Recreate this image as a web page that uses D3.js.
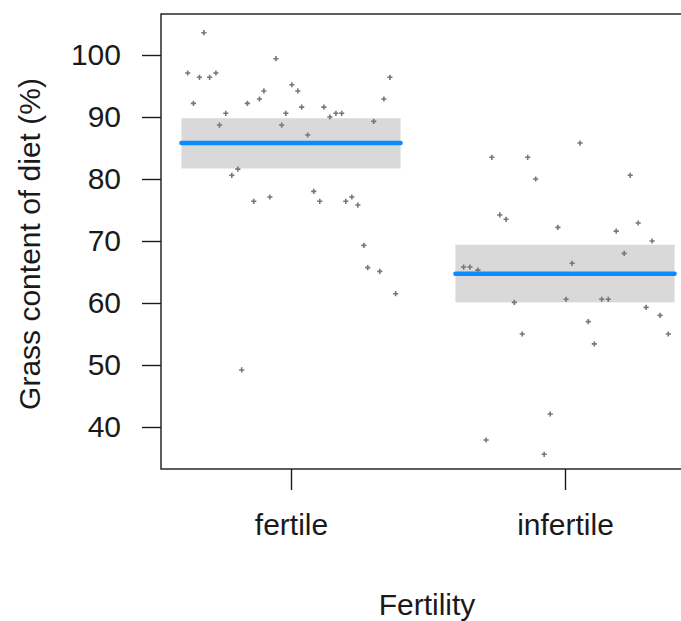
<!DOCTYPE html>
<html lang="en">
<head>
    <meta charset="UTF-8">
    <title>Grass content by fertility</title>
    <script src="https://d3js.org/d3.v7.min.js"></script>
    <style>
        body { margin: 0; background: #fff; }
        text { font-family: "Liberation Sans", Arial, sans-serif; fill: #1a1a1a; }
    </style>
</head>
<body>
<svg width="681" height="621" class="chart"></svg>

<script>
    // categories and tick labels
    var groups = ["fertile", "infertile"];
    var yTicks = [40, 50, 60, 70, 80, 90, 100];

    // fitted means and confidence band per group
    var groupMeans = [85.8, 64.7];
    var ciLower = [81.7, 60.1];
    var ciUpper = [89.8, 69.4];

    // jittered raw observations (x is position on the category axis, 1 = fertile, 2 = infertile)
    var fertileX = [0.682, 0.623, 0.666, 0.703, 0.726, 0.644, 0.762, 0.739, 0.784, 0.806,
        0.841, 0.885, 0.901, 0.864, 0.923, 0.945, 0.966, 0.981, 1.003, 1.025,
        1.039, 1.061, 1.083, 1.105, 1.120, 1.142, 1.164, 1.185, 1.200, 1.222,
        1.244, 1.302, 1.339, 1.361, 1.266, 1.280, 1.324, 1.382, 0.820];
    var fertileY = [103.6, 97.1, 96.4, 96.4, 97.1, 92.2, 90.6, 88.7, 80.6, 81.6,
        92.2, 92.9, 94.2, 76.4, 77.1, 99.4, 88.7, 90.6, 95.2, 94.2,
        91.6, 87.1, 78.0, 76.4, 91.6, 90.0, 90.6, 90.6, 76.4, 77.1,
        75.8, 89.3, 92.9, 96.4, 69.3, 65.7, 65.1, 61.5, 49.2];

    var infertileX = [1.733, 1.864, 1.893, 2.055, 2.238, 1.762, 1.785, 1.974, 2.187, 2.267,
        2.318, 2.216, 2.026, 1.630, 1.653, 1.682, 1.815, 2.004, 2.134, 2.158,
        2.296, 2.347, 2.085, 1.844, 2.107, 2.377, 1.946, 1.712, 1.924];
    var infertileY = [83.5, 83.5, 80.0, 85.8, 80.6, 74.2, 73.5, 72.2, 71.6, 72.9,
        70.0, 68.0, 66.4, 65.8, 65.8, 65.3, 60.1, 60.6, 60.6, 60.6,
        59.3, 58.0, 57.0, 55.0, 53.4, 55.0, 42.1, 37.9, 35.6];

    var svg = d3.select("svg.chart");
    var plotLeft = 161, plotTop = 14, plotBottom = 469, plotRight = 700;

    var xScale = d3.scaleLinear().domain([1, 2]).range([291, 565]);
    var yScale = d3.scaleLinear().domain([40, 100]).range([427, 55]);

    var points = [];
    fertileX.forEach(function (d, i) { points.push({x: d, y: fertileY[i]}); });
    infertileX.forEach(function (d, i) { points.push({x: d, y: infertileY[i]}); });

    var bands = groups.map(function (g, i) {
        return {name: g, pos: i + 1, mean: groupMeans[i], lo: ciLower[i], hi: ciUpper[i]};
    });

    // confidence band
    svg.selectAll(".band")
        .data(bands)
        .enter().append("rect")
        .attr("class", "band")
        .attr("x", function (d) { return xScale(d.pos - 0.4); })
        .attr("width", function (d) { return xScale(d.pos + 0.4) - xScale(d.pos - 0.4); })
        .attr("y", function (d) { return yScale(d.hi); })
        .attr("height", function (d) { return yScale(d.lo) - yScale(d.hi); })
        .attr("fill", "#d9d9d9");

    // raw points as small crosses
    svg.selectAll(".pt")
        .data(points)
        .enter().append("path")
        .attr("class", "pt")
        .attr("transform", function (d) {
            return "translate(" + xScale(d.x) + "," + yScale(d.y) + ")";
        })
        .attr("d", "M-2.6,0H2.6M0,-2.6V2.6")
        .attr("stroke", "#777777")
        .attr("stroke-width", 1.6);

    // mean lines
    svg.selectAll(".mean")
        .data(bands)
        .enter().append("line")
        .attr("class", "mean")
        .attr("x1", function (d) { return xScale(d.pos - 0.4); })
        .attr("x2", function (d) { return xScale(d.pos + 0.4); })
        .attr("y1", function (d) { return yScale(d.mean); })
        .attr("y2", function (d) { return yScale(d.mean); })
        .attr("stroke", "#0a8cff")
        .attr("stroke-width", 4.5)
        .attr("stroke-linecap", "round");

    // plot frame
    svg.append("rect")
        .attr("x", plotLeft)
        .attr("y", plotTop)
        .attr("width", plotRight - plotLeft)
        .attr("height", plotBottom - plotTop)
        .attr("fill", "none")
        .attr("stroke", "#1a1a1a")
        .attr("stroke-width", 1.4);

    // y axis
    var yAxis = svg.append("g")
        .attr("transform", "translate(" + plotLeft + ",0)")
        .call(d3.axisLeft(yScale).tickValues(yTicks).tickSize(19).tickPadding(21));
    yAxis.select(".domain").remove();
    yAxis.selectAll(".tick line").attr("stroke", "#1a1a1a").attr("stroke-width", 1.4);
    yAxis.selectAll(".tick text")
        .attr("font-size", "30px")
        .attr("font-family", "Liberation Sans, Arial, sans-serif")
        .attr("fill", "#1a1a1a");

    // x axis
    var xAxis = svg.append("g")
        .attr("transform", "translate(0," + plotBottom + ")")
        .call(d3.axisBottom(xScale).tickValues([1, 2]).tickSize(21).tickPadding(24)
            .tickFormat(function (d) { return groups[d - 1]; }));
    xAxis.select(".domain").remove();
    xAxis.selectAll(".tick line").attr("stroke", "#1a1a1a").attr("stroke-width", 1.4);
    xAxis.selectAll(".tick text")
        .attr("font-size", "30px")
        .attr("font-family", "Liberation Sans, Arial, sans-serif")
        .attr("fill", "#1a1a1a");

    // axis titles
    svg.append("text")
        .attr("x", 427)
        .attr("y", 615)
        .attr("text-anchor", "middle")
        .attr("font-size", "30px")
        .text("Fertility");

    svg.append("text")
        .attr("transform", "translate(40,244) rotate(-90)")
        .attr("text-anchor", "middle")
        .attr("font-size", "30px")
        .text("Grass content of diet (%)");
</script>
</body>
</html>
